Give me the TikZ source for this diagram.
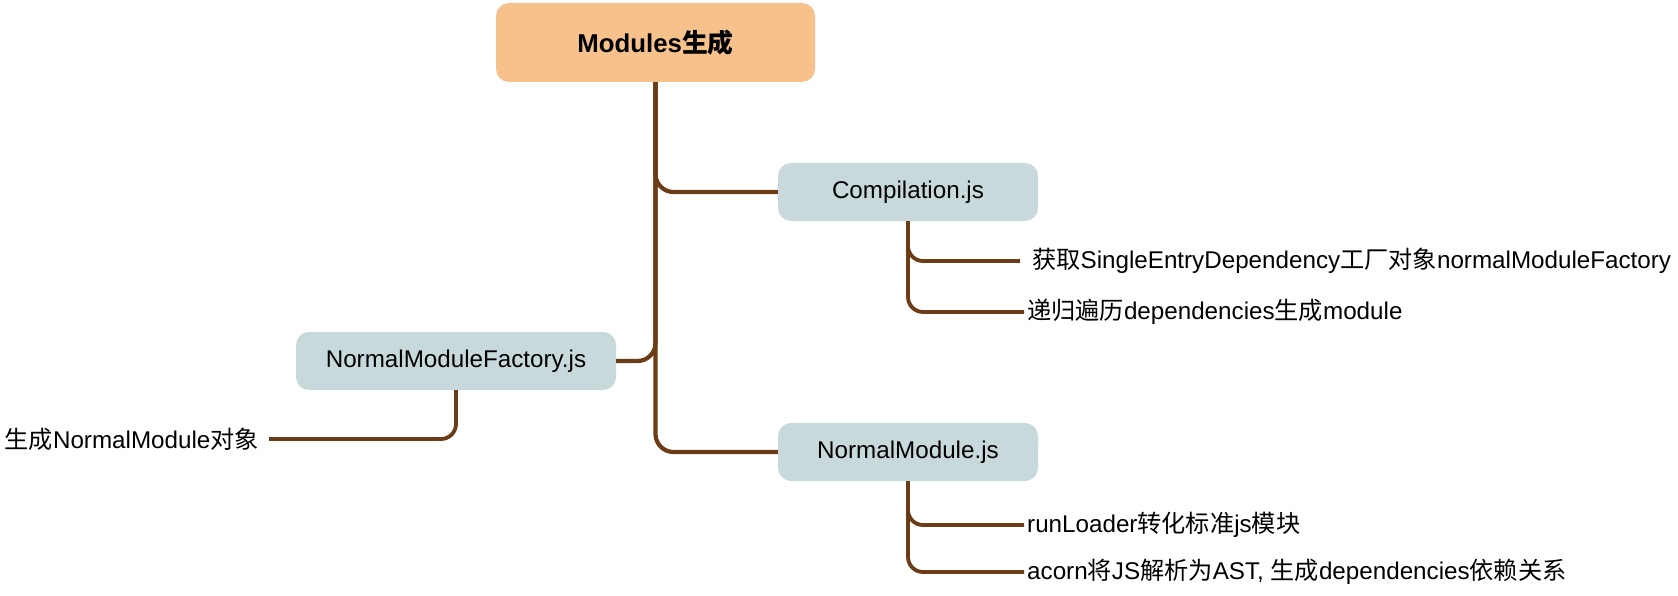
\documentclass[tikz,border=0pt]{standalone}
\usepackage{fontspec}
\setmainfont{Liberation Sans}
\newfontfamily\cjk{Noto Sans CJK SC}
\newcommand\zh[1]{{\cjk #1}}
\definecolor{rootfill}{RGB}{246,193,138}
\definecolor{boxfill}{RGB}{200,217,220}
\definecolor{edgec}{RGB}{107,60,22}
\tikzset{
  txt/.style={font=\fontsize{24.2}{29}\selectfont},
  rootbox/.style={fill=rootfill, rounded corners=13pt, minimum width=319pt, minimum height=79pt, inner sep=0pt, font=\fontsize{25.8}{31}\selectfont\bfseries},
  midbox/.style={txt, fill=boxfill, rounded corners=13pt, minimum height=58pt, inner sep=0pt},
  leaf/.style={txt, inner sep=3pt},
  link/.style={draw=edgec, line width=4.2pt, rounded corners=18pt},
  sublink/.style={draw=edgec, line width=3.8pt, rounded corners=15pt}
}
\begin{document}
\begin{tikzpicture}[x=1pt,y=-1pt]
\useasboundingbox (0,0) rectangle (1678,596);
\node[rootbox] (root) at (655.5,42.5) {Modules\zh{生成}};
\node[midbox, minimum width=260pt] (comp) at (908,192) {Compilation.js};
\node[midbox, minimum width=320pt] (nmf) at (456,361) {NormalModuleFactory.js};
\node[midbox, minimum width=260pt] (nm) at (908,452) {NormalModule.js};
\node[leaf, anchor=west, inner xsep=12pt] (c1) at (1020,261) {\zh{获取}SingleEntryDependency\zh{工厂对象}normalModuleFactory};
\node[leaf, anchor=west] (c2) at (1024,312) {\zh{递归遍历}dependencies\zh{生成}module};
\node[leaf, anchor=west] (n1) at (1024,525) {runLoader\zh{转化标准}js\zh{模块}};
\node[leaf, anchor=west] (n2) at (1024,572) {acorn\zh{将}JS\zh{解析为}AST, \zh{生成}dependencies\zh{依赖关系}};
\node[leaf, anchor=east, inner xsep=10pt] (f1) at (269,439) {\zh{生成}NormalModule\zh{对象}};
\draw[link] (root.south) |- (comp.west);
\draw[link] (root.south) |- (nm.west);
\draw[link] (root.south) |- (nmf.east);
\draw[sublink] (comp.south) |- (c1.west);
\draw[sublink] (comp.south) |- (c2.west);
\draw[sublink] (nm.south) |- (n1.west);
\draw[sublink] (nm.south) |- (n2.west);
\draw[sublink] (nmf.south) |- (f1.east);
\end{tikzpicture}
\end{document}
